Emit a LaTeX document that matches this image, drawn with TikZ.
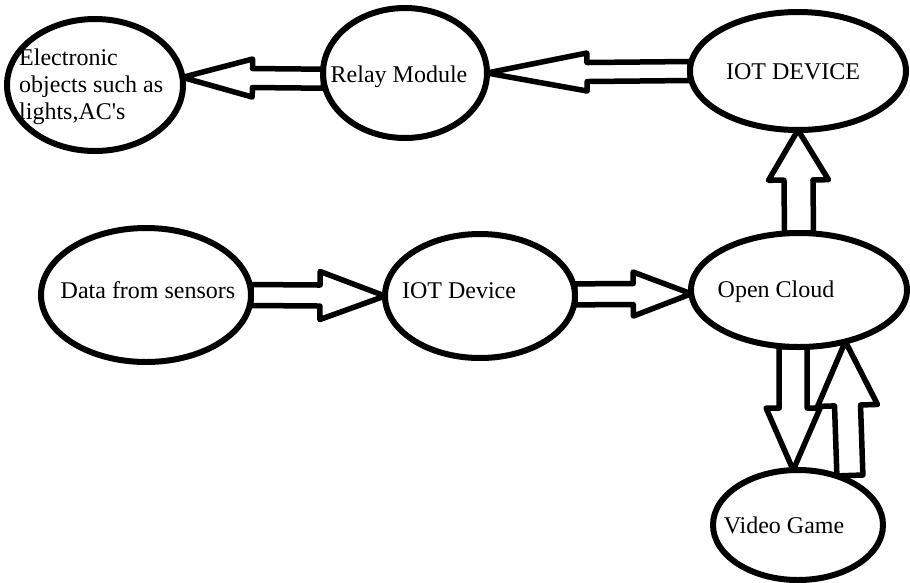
\documentclass[tikz,border=0pt]{standalone}
\usepackage{fontspec}
\setmainfont{Liberation Serif}
\newfontfamily\plainserif{Liberation Serif}
\usetikzlibrary{calc,shapes.geometric}
\tikzset{
  ell/.style={draw=black, ellipse, line width=6pt, inner sep=0pt, outer sep=0pt},
  txt/.style={font=\fontsize{24}{27}\selectfont, inner sep=0pt, text=black},
  barr/.style={draw=black, line width=5.5pt, line join=round, line cap=round},
}
% #1 tail, #2 tip, #3 shaft half width, #4 head half width, #5 head length
\newcommand\blockarr[5]{%
  \draw[barr] ($(#1)!#3!90:(#2)$)
    -- ($(#2)!#5!(#1)!#3!-90:(#1)$)
    -- ($(#2)!#5!(#1)!#4!-90:(#1)$)
    -- (#2)
    -- ($(#2)!#5!(#1)!#4!90:(#1)$)
    -- ($(#2)!#5!(#1)!#3!90:(#1)$)
    -- ($(#1)!#3!-90:(#2)$) -- cycle;
}
\begin{document}
\begin{tikzpicture}[x=1pt,y=-1pt]
\fill[white] (0,0) rectangle (910,582);
\useasboundingbox (0,0) rectangle (910,582);

% ellipses
\node[ell, minimum width=176pt, minimum height=132pt] (elec)  at (95,85)   {};
\node[ell, minimum width=164pt, minimum height=130pt] (relay) at (405,73)  {};
\node[ell, minimum width=216pt, minimum height=118pt] (iotD)  at (798,71)  {};
\node[ell, minimum width=210pt, minimum height=134pt] (data)  at (146,295) {};
\node[ell, minimum width=190pt, minimum height=124pt] (iotd)  at (480,296) {};
\node[ell, minimum width=216pt, minimum height=114pt] (cloud) at (799,290) {};
\node[ell, minimum width=170pt, minimum height=110pt] (vg)    at (798,525) {};

% texts
\node[txt, anchor=north west, align=left] (telec) at (19,49) {Electronic\\objects such as\\lights,AC{\plainserif '}s};
\node[txt, anchor=base] (trelay) at (399,82)  {Relay Module};
\node[txt, anchor=base] (tiotD)  at (793,79)  {IOT DEVICE};
\node[txt, anchor=base] (tdata)  at (148,298) {Data from sensors};
\node[txt, anchor=base] (tiotd)  at (459,298) {IOT Device};
\node[txt, anchor=base] (tcloud) at (776,297) {Open Cloud};
\node[txt, anchor=base] (tvg)    at (784,533) {Video Game};

% block arrows
\blockarr{relay.184}{elec.5}{9.5pt}{19pt}{70pt}
\blockarr{iotD.west}{relay.east}{9.5pt}{19pt}{100pt}
\blockarr{data.east}{iotd.west}{10.5pt}{24pt}{65pt}
\blockarr{iotd.1}{cloud.182}{10.5pt}{22pt}{58pt}
\blockarr{cloud.north}{iotD.south}{14.5pt}{30pt}{50pt}
\blockarr{cloud.264}{vg.95}{14pt}{27pt}{62pt}
\coordinate (vgtail) at ($(vg.40)+(0,-6)$);
\blockarr{vgtail}{cloud.312}{13pt}{30pt}{64pt}
\end{tikzpicture}
\end{document}
